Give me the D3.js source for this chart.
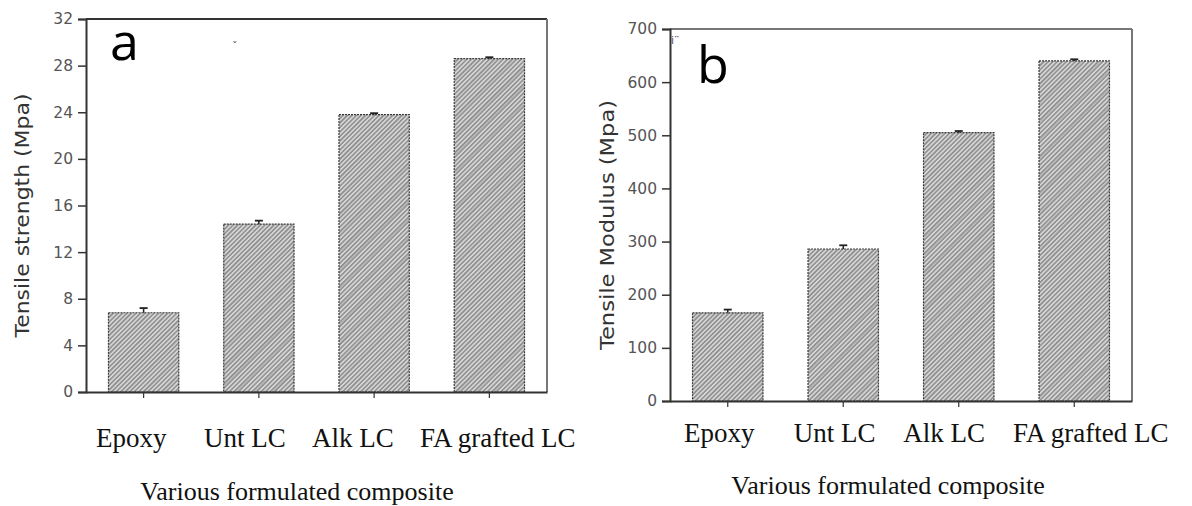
<!DOCTYPE html>
<html>
<head>
<meta charset="utf-8">
<script src="https://cdn.jsdelivr.net/npm/d3@7"></script>
<style>
  body { margin: 0; background: #fff; }
  svg { display: block; }
</style>
</head>
<body>
<div id="chart"></div>
<script>
// data
let categories = ['Epoxy', 'Unt LC', 'Alk LC', 'FA grafted LC'];
let strength = [6.8, 14.4, 23.8, 28.6];
let strengthErr = [0.4, 0.3, 0.12, 0.12];
let modulus = [166, 286, 505, 640];
let modulusErr = [6, 7, 3, 3];
let strengthTicks = [0, 4, 8, 12, 16, 20, 24, 28, 32];
let modulusTicks = [0, 100, 200, 300, 400, 500, 600, 700];

let W = 1192, H = 506;
let svg = d3.select('#chart').append('svg').attr('width', W).attr('height', H);

// hatch fill used by every bar
let defs = svg.append('defs');
let pat = defs.append('pattern')
  .attr('id', 'hatch')
  .attr('patternUnits', 'userSpaceOnUse')
  .attr('width', 3.2).attr('height', 3.2)
  .attr('patternTransform', 'rotate(45)');
pat.append('rect').attr('width', 3.2).attr('height', 3.2).attr('fill', '#d6d6d6');
pat.append('line').attr('x1', 0.8).attr('y1', 0).attr('x2', 0.8).attr('y2', 3.2)
   .attr('stroke', '#828282').attr('stroke-width', 1.3);
let pat2 = defs.append('pattern')
  .attr('id', 'hatch2')
  .attr('patternUnits', 'userSpaceOnUse')
  .attr('width', 13).attr('height', 13)
  .attr('patternTransform', 'rotate(45)');
pat2.append('line').attr('x1', 2).attr('y1', 0).attr('x2', 2).attr('y2', 13)
    .attr('stroke', '#8a8a8a').attr('stroke-width', 1.5);

let panels = [
  { key: 'a', values: strength, errs: strengthErr, ticks: strengthTicks, max: 32,
    left: 86, right: 547, top: 19, bottom: 392,
    ytitle: 'Tensile strength  (Mpa)', ytitleX: 29, ytitleLen: 244,
    labelRange: [96, 420], labelY: 447, xtitleX: 297, xtitleY: 500,
    letterX: 110, letterY: 60, mark: 'ˇ', markX: 232, markY: 50 },
  { key: 'b', values: modulus, errs: modulusErr, ticks: modulusTicks, max: 700,
    left: 670, right: 1132, top: 29, bottom: 401,
    ytitle: 'Tensile Modulus  (Mpa)', ytitleX: 614, ytitleLen: 250,
    labelRange: [684, 1013], labelY: 442, xtitleX: 888, xtitleY: 494,
    letterX: 697, letterY: 83, mark: 'i¨', markX: 671, markY: 44 }
];

panels.forEach(p => {
  let g = svg.append('g').attr('class', 'panel-' + p.key);

  let x = d3.scaleBand()
            .domain(categories)
            .range([p.left, p.right])
            .paddingInner(0.39)
            .paddingOuter(0.195);
  let y = d3.scaleLinear()
            .domain([0, p.max])
            .range([p.bottom, p.top]);
  let labelX = d3.scalePoint().domain(categories).range(p.labelRange);

  // bars
  g.selectAll('rect.bar')
   .data(p.values)
   .enter()
   .append('rect')
   .attr('class', 'bar')
   .attr('x', (v, i) => x(categories[i]))
   .attr('y', v => y(v))
   .attr('width', x.bandwidth())
   .attr('height', v => y(0) - y(v))
   .attr('fill', 'url(#hatch)')
   .attr('stroke', '#3a3a3a')
   .attr('stroke-width', 1.2)
   .attr('stroke-dasharray', '2,1');
  g.selectAll('rect.bar2')
   .data(p.values)
   .enter()
   .append('rect')
   .attr('class', 'bar2')
   .attr('x', (v, i) => x(categories[i]) + 1)
   .attr('y', v => y(v) + 1)
   .attr('width', x.bandwidth() - 2)
   .attr('height', v => y(0) - y(v) - 2)
   .attr('fill', 'url(#hatch2)')
   .attr('opacity', 0.5);

  // error bars (upper half only)
  let eb = g.selectAll('g.err')
            .data(p.values)
            .enter()
            .append('g')
            .attr('class', 'err');
  eb.append('line')
    .attr('x1', (v, i) => x(categories[i]) + x.bandwidth() / 2)
    .attr('x2', (v, i) => x(categories[i]) + x.bandwidth() / 2)
    .attr('y1', v => y(v))
    .attr('y2', (v, i) => y(v + p.errs[i]))
    .attr('stroke', '#222').attr('stroke-width', 1.5);
  eb.append('line')
    .attr('x1', (v, i) => x(categories[i]) + x.bandwidth() / 2 - 4)
    .attr('x2', (v, i) => x(categories[i]) + x.bandwidth() / 2 + 4)
    .attr('y1', (v, i) => y(v + p.errs[i]))
    .attr('y2', (v, i) => y(v + p.errs[i]))
    .attr('stroke', '#222').attr('stroke-width', 1.8);

  // frame: top and right
  g.append('line')
   .attr('x1', p.left).attr('x2', p.right)
   .attr('y1', y(p.max)).attr('y2', y(p.max))
   .attr('stroke', p.key === 'a' ? '#333' : '#777').attr('stroke-width', 2);
  g.append('line')
   .attr('x1', p.right).attr('x2', p.right)
   .attr('y1', y(p.max)).attr('y2', y(0))
   .attr('stroke', '#777').attr('stroke-width', 2);

  // y axis
  let ya = g.append('g')
            .attr('transform', `translate(${p.left},0)`)
            .call(d3.axisLeft(y).tickValues(p.ticks).tickSize(8).tickPadding(5));
  ya.select('.domain').attr('stroke', '#333').attr('stroke-width', 2);
  ya.selectAll('.tick line').attr('stroke', '#333').attr('stroke-width', 1.5);
  ya.selectAll('.tick text')
    .attr('fill', '#555')
    .style('font-family', '"DejaVu Sans", sans-serif')
    .style('font-size', '15.5px');

  // x axis
  let xa = g.append('g')
            .attr('transform', `translate(0,${p.bottom})`)
            .call(d3.axisBottom(x).tickSize(6).tickSizeOuter(0).tickFormat(''));
  xa.select('.domain').attr('stroke', '#333').attr('stroke-width', 2);
  xa.selectAll('.tick line').attr('stroke', '#333').attr('stroke-width', 1.2);

  // category labels
  g.selectAll('text.cat')
   .data(categories)
   .enter()
   .append('text')
   .attr('class', 'cat')
   .attr('x', d => labelX(d))
   .attr('y', p.labelY)
   .attr('fill', '#111')
   .style('font-family', '"Liberation Serif", "Times New Roman", serif')
   .style('font-size', '27px')
   .text(d => d);

  // axis titles
  g.append('text')
   .attr('transform', `translate(${p.xtitleX},${p.xtitleY})`)
   .attr('text-anchor', 'middle')
   .attr('fill', '#111')
   .style('font-family', '"Liberation Serif", "Times New Roman", serif')
   .style('font-size', '26px')
   .text('Various formulated composite');

  g.append('text')
   .attr('transform', `translate(${p.ytitleX},${(p.top + p.bottom) / 2 + 10}) rotate(-90)`)
   .attr('text-anchor', 'middle')
   .attr('fill', '#333')
   .attr('textLength', p.ytitleLen)
   .attr('lengthAdjust', 'spacingAndGlyphs')
   .style('font-family', '"DejaVu Sans", sans-serif')
   .style('font-size', '19px')
   .text(p.ytitle);

  // panel letter
  g.append('text')
   .attr('x', p.letterX).attr('y', p.letterY)
   .attr('fill', '#000')
   .style('font-family', '"Open Sans", sans-serif')
   .style('font-size', '52px')
   .text(p.key);

  // stray marks in the source figure
  g.append('text')
   .attr('x', p.markX).attr('y', p.markY)
   .attr('fill', '#555')
   .style('font-family', '"DejaVu Sans", sans-serif')
   .style('font-size', '11px')
   .text(p.mark);
});
</script>
</body>
</html>
